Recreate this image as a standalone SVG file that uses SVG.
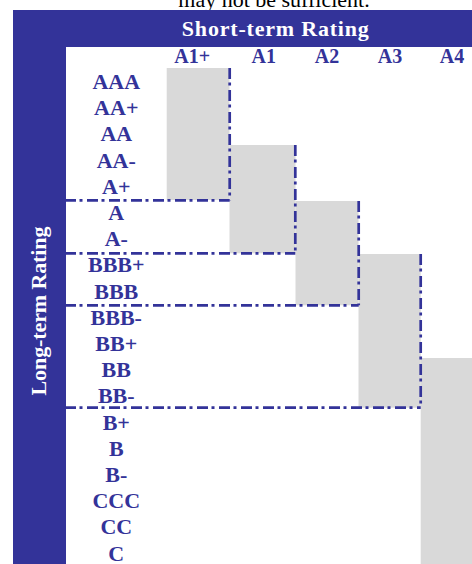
<svg xmlns="http://www.w3.org/2000/svg" width="472" height="564" viewBox="0 0 472 564">
<style>
.bg{fill:#ffffff}
.band{fill:#333399}
.cell{fill:#d9d9d9}
.cap{font-family:"Liberation Serif","Times New Roman",serif;font-size:22px;fill:#000000;text-anchor:middle}
.hdr{font-family:"Liberation Serif","Times New Roman",serif;font-weight:bold;font-size:22px;fill:#ffffff;text-anchor:middle}
.col{font-family:"Liberation Serif","Times New Roman",serif;font-weight:bold;font-size:20px;fill:#333399;text-anchor:middle}
.row{font-family:"Liberation Serif","Times New Roman",serif;font-weight:bold;font-size:20px;fill:#333399;text-anchor:middle}
.dash{fill:none;stroke:#333399;stroke-width:2.7;stroke-dasharray:11 3.5 3 4.5}
</style>
<rect class="bg" x="0" y="0" width="472" height="564"/>
<text class="cap" x="274" y="7">may not be sufficient.</text>
<g id="frame">
<rect class="band" x="13" y="10" width="459" height="37"/>
<rect class="band" x="13" y="10" width="53" height="554"/>
<text class="hdr" x="275.3" y="35.7" textLength="187" lengthAdjust="spacing">Short-term Rating</text>
<text class="hdr" transform="translate(45.5,311) rotate(-90)" x="0" y="0" textLength="169" lengthAdjust="spacing">Long-term Rating</text>
</g>
<g id="cells">
<rect class="cell" x="166.7" y="68" width="62.8" height="132"/>
<rect class="cell" x="229.5" y="145" width="66" height="108.3"/>
<rect class="cell" x="295.5" y="201" width="63" height="104.3"/>
<rect class="cell" x="358.5" y="254" width="62.2" height="153.7"/>
<rect class="cell" x="420.7" y="358" width="51.3" height="206"/>
</g>
<g id="connectors">
<path class="dash" d="M229.7,68 V200.3"/>
<path class="dash" d="M65,200.3 H229.7"/>
<path class="dash" d="M295.3,145 V253.3"/>
<path class="dash" d="M65,253.3 H295.3"/>
<path class="dash" d="M358.7,201 V305.3"/>
<path class="dash" d="M65,305.3 H358.7"/>
<path class="dash" d="M420.7,254 V407.7"/>
<path class="dash" d="M65,407.7 H420.7"/>
</g>
<g id="columns">
<text class="col" x="192.2" y="62.7">A1+</text>
<text class="col" x="263.8" y="62.7">A1</text>
<text class="col" x="327" y="62.7">A2</text>
<text class="col" x="390" y="62.7">A3</text>
<text class="col" x="452" y="62.7">A4</text>
</g>
<g id="rows" transform="scale(1.1,1)">
<text class="row" x="105.7" y="89">AAA</text>
<text class="row" x="105.7" y="115.2">AA+</text>
<text class="row" x="105.7" y="141.4">AA</text>
<text class="row" x="105.7" y="167.6">AA-</text>
<text class="row" x="105.7" y="193.8">A+</text>
<text class="row" x="105.7" y="220">A</text>
<text class="row" x="105.7" y="246.2">A-</text>
<text class="row" x="105.7" y="272.4">BBB+</text>
<text class="row" x="105.7" y="298.6">BBB</text>
<text class="row" x="105.7" y="324.8">BBB-</text>
<text class="row" x="105.7" y="351">BB+</text>
<text class="row" x="105.7" y="377.2">BB</text>
<text class="row" x="105.7" y="403.4">BB-</text>
<text class="row" x="105.7" y="429.6">B+</text>
<text class="row" x="105.7" y="455.8">B</text>
<text class="row" x="105.7" y="482">B-</text>
<text class="row" x="105.7" y="508.2">CCC</text>
<text class="row" x="105.7" y="534.4">CC</text>
<text class="row" x="105.7" y="560.6">C</text>
</g>
</svg>
